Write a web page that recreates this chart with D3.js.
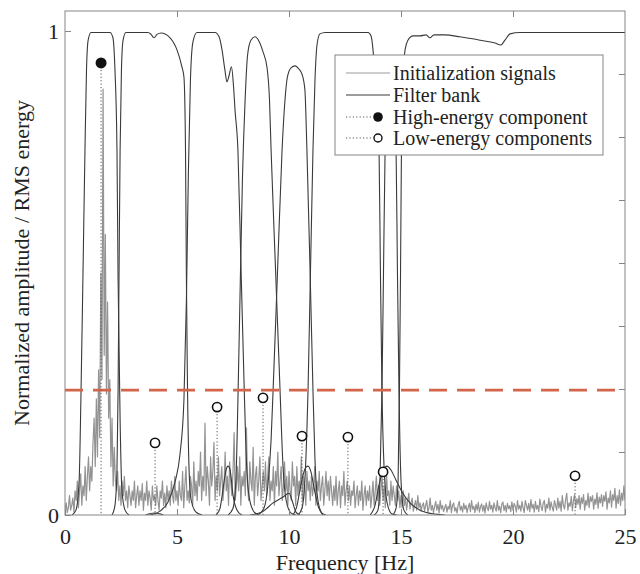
<!DOCTYPE html>
<html>
<head>
<meta charset="utf-8">
<script src="https://cdn.jsdelivr.net/npm/d3@7"></script>
<style>
body { margin: 0; background: #fff; }
text { font-family: "Liberation Serif", "Times New Roman", serif; fill: #222; }
</style>
</head>
<body>
<script>
// axis ticks
var freqTicks = [0, 5, 10, 15, 20, 25];
var ampTicks = [0, 1];
var rightTicks = [1, 2, 3, 4, 5, 6, 7];

// initialization signal, one value every 0.05 Hz from 0 to 25 Hz
var initStep = 0.05;
var initSignal = [
	0.01,0.025,0.005,0.015,0.04,0.01,0.02,0.035,0.006,0.05, 0.03,0.07,0.015,0.05,0.085,0.02,0.06,0.04,0.1,0.03,
	0.08,0.12,0.05,0.1,0.07,0.15,0.2,0.1,0.24,0.12, 0.3,0.16,0.5,0.28,0.88,0.33,0.58,0.25,0.44,0.2,
	0.28,0.1,0.2,0.06,0.14,0.07,0.05,0.09,0.03,0.06, 0.02,0.07,0.04,0.08,0.03,0.05,0.015,0.06,0.04,0.02,
	0.05,0.03,0.07,0.015,0.04,0.06,0.02,0.05,0.03,0.065, 0.01,0.045,0.03,0.07,0.02,0.05,0.035,0.01,0.06,0.03,
	0.04,0.02,0.06,0.03,0.01,0.05,0.035,0.07,0.02,0.045, 0.015,0.06,0.03,0.05,0.02,0.07,0.04,0.025,0.08,0.03,
	0.05,0.02,0.07,0.04,0.03,0.09,0.015,0.06,0.1,0.03, 0.05,0.025,0.08,0.06,0.02,0.11,0.04,0.07,0.03,0.09,
	0.06,0.13,0.03,0.08,0.05,0.19,0.04,0.1,0.07,0.02, 0.12,0.06,0.09,0.15,0.03,0.08,0.05,0.12,0.04,0.07,
	0.1,0.03,0.06,0.13,0.05,0.08,0.02,0.11,0.07,0.04, 0.09,0.17,0.03,0.06,0.1,0.05,0.12,0.02,0.08,0.06,
	0.09,0.04,0.18,0.06,0.03,0.11,0.07,0.05,0.14,0.02, 0.08,0.1,0.04,0.07,0.12,0.03,0.06,0.09,0.05,0.11,
	0.04,0.08,0.12,0.03,0.07,0.05,0.1,0.02,0.09,0.06, 0.13,0.04,0.07,0.1,0.03,0.06,0.11,0.05,0.08,0.02,
	0.09,0.05,0.03,0.11,0.06,0.08,0.02,0.1,0.04,0.07, 0.05,0.12,0.03,0.08,0.06,0.02,0.09,0.05,0.07,0.03,
	0.08,0.04,0.06,0.1,0.02,0.07,0.05,0.09,0.03,0.06, 0.08,0.02,0.05,0.09,0.04,0.07,0.03,0.08,0.05,0.02,
	0.06,0.03,0.08,0.02,0.05,0.07,0.015,0.06,0.04,0.09, 0.02,0.05,0.07,0.03,0.06,0.02,0.05,0.04,0.07,0.015,
	0.04,0.06,0.02,0.05,0.03,0.07,0.01,0.04,0.06,0.02, 0.05,0.03,0.06,0.015,0.04,0.07,0.02,0.05,0.08,0.03,
	0.06,0.02,0.05,0.08,0.03,0.06,0.015,0.09,0.04,0.05, 0.02,0.07,0.03,0.06,0.04,0.02,0.06,0.03,0.05,0.015,
	0.04,0.015,0.05,0.02,0.035,0.01,0.03,0.045,0.012,0.025, 0.035,0.008,0.02,0.03,0.01,0.04,0.015,0.025,0.008,0.02,
	0.025,0.008,0.02,0.03,0.006,0.015,0.035,0.01,0.02,0.005, 0.018,0.028,0.01,0.022,0.004,0.03,0.012,0.02,0.007,0.015,
	0.022,0.006,0.018,0.012,0.03,0.005,0.02,0.025,0.008,0.015, 0.004,0.02,0.028,0.01,0.018,0.006,0.024,0.012,0.02,0.005,
	0.016,0.024,0.007,0.03,0.012,0.018,0.005,0.022,0.01,0.026, 0.006,0.017,0.023,0.008,0.02,0.004,0.025,0.014,0.009,0.028,
	0.012,0.02,0.006,0.025,0.015,0.008,0.03,0.01,0.018,0.005, 0.022,0.027,0.009,0.02,0.006,0.024,0.013,0.019,0.007,0.027,
	0.01,0.024,0.018,0.006,0.03,0.012,0.02,0.008,0.028,0.015, 0.005,0.03,0.02,0.01,0.024,0.007,0.032,0.014,0.022,0.006,
	0.028,0.012,0.02,0.007,0.033,0.018,0.009,0.025,0.03,0.006, 0.022,0.014,0.035,0.01,0.027,0.016,0.008,0.03,0.02,0.01,
	0.035,0.014,0.028,0.008,0.04,0.02,0.012,0.032,0.045,0.01, 0.025,0.018,0.038,0.009,0.03,0.042,0.015,0.034,0.022,0.04,
	0.012,0.036,0.024,0.042,0.01,0.03,0.02,0.045,0.015,0.038, 0.028,0.04,0.012,0.033,0.022,0.046,0.014,0.037,0.025,0.042,
	0.018,0.04,0.028,0.048,0.012,0.035,0.025,0.05,0.016,0.042, 0.03,0.055,0.014,0.04,0.024,0.052,0.02,0.045,0.03,0.06,
	0.03
];

// filter bank responses, [frequency Hz, gain]
var filterA = [[0.31,0],[0.49,0.01],[0.63,0.07],[0.71,0.24],[0.80,0.49],[0.89,0.75],[0.96,0.92],[1.03,0.98],[1.16,0.997],[2.01,0.997],[2.14,0.986],[2.23,0.92],[2.32,0.754],[2.37,0.486],[2.46,0.196],[2.54,0.052],[2.68,0.01],[2.86,0]];
var filterB = [[2.1,0],[2.23,0.02],[2.32,0.093],[2.37,0.258],[2.41,0.486],[2.46,0.754],[2.52,0.92],[2.59,0.98],[2.72,0.997],[3.71,0.997],[3.84,0.993],[3.97,0.986],[4.11,0.993],[4.29,0.996],[4.69,0.986],[5.0,0.961],[5.22,0.926],[5.31,0.905],[5.38,0.754],[5.42,0.486],[5.47,0.258],[5.54,0.093],[5.63,0.031],[5.85,0.006],[6.12,0]];
var filterC = [[3.79,0],[4.24,0.008],[4.6,0.027],[4.91,0.068],[5.13,0.124],[5.31,0.238],[5.42,0.444],[5.51,0.713],[5.6,0.899],[5.71,0.977],[5.89,0.997],[6.7,0.997],[6.88,0.988],[7.01,0.961],[7.14,0.919],[7.23,0.895],[7.32,0.907],[7.43,0.926],[7.52,0.888],[7.59,0.837],[7.72,0.754],[7.86,0.506],[7.99,0.279],[8.08,0.134],[8.21,0.041],[8.39,0.01],[8.62,0]];
var filterD = [[7.28,0],[7.5,0.014],[7.63,0.072],[7.72,0.238],[7.81,0.444],[7.92,0.692],[8.04,0.857],[8.15,0.95],[8.3,0.981],[8.48,0.988],[8.66,0.979],[8.84,0.957],[9.02,0.924],[9.13,0.857],[9.2,0.754],[9.4,0.506],[9.6,0.258],[9.73,0.103],[9.87,0.031],[10.09,0.004],[10.31,0]];
var filterE = [[8.62,0],[8.88,0.014],[9.06,0.062],[9.2,0.155],[9.29,0.258],[9.49,0.506],[9.69,0.754],[9.82,0.857],[9.93,0.905],[10.09,0.924],[10.27,0.928],[10.45,0.921],[10.58,0.911],[10.71,0.878],[10.8,0.754],[10.94,0.506],[11.07,0.258],[11.16,0.114],[11.29,0.031],[11.47,0.004],[11.65,0]];
var filterF = [[10.4,0],[10.58,0.014],[10.71,0.072],[10.8,0.176],[10.85,0.258],[10.96,0.506],[11.07,0.754],[11.16,0.899],[11.25,0.971],[11.38,0.994],[11.61,0.997],[13.53,0.997],[13.66,0.99],[13.75,0.961],[13.84,0.899],[13.93,0.816],[14.02,0.754],[14.08,0.506],[14.15,0.258],[14.24,0.103],[14.38,0.025],[14.6,0.002],[14.82,0]];
var filterG = [[13.8,0],[13.97,0.01],[14.06,0.072],[14.15,0.258],[14.22,0.506],[14.29,0.754],[14.38,0.857],[14.51,0.899],[14.64,0.857],[14.78,0.754],[14.84,0.506],[14.91,0.258],[15.0,0.072],[15.13,0.01],[15.31,0]];
var filterH = [[14.64,0],[14.78,0.014],[14.87,0.072],[14.93,0.258],[14.98,0.506],[15.02,0.754],[15.09,0.899],[15.18,0.961],[15.31,0.981],[15.54,0.99],[15.85,0.99],[16.12,0.992],[16.29,0.986],[16.47,0.992],[16.96,0.992],[17.63,0.988],[18.53,0.981],[19.2,0.975],[19.46,0.971],[19.64,0.981],[19.87,0.994],[20.31,0.997],[25,0.997]];
var filterL1 = [[6.74,0],[6.92,0.014],[7.05,0.052],[7.19,0.093],[7.28,0.101],[7.37,0.093],[7.5,0.041],[7.68,0.01],[7.9,0]];
var filterL2 = [[8.26,0],[8.79,0.006],[9.29,0.025],[9.73,0.037],[10.0,0.045],[10.13,0.031],[10.31,0.006],[10.49,0]];
var filterL3 = [[10.18,0],[10.36,0.02],[10.49,0.052],[10.63,0.083],[10.76,0.099],[10.85,0.101],[10.98,0.089],[11.12,0.056],[11.29,0.02],[11.52,0]];
var filterL4 = [[13.62,0],[13.84,0.02],[14.02,0.062],[14.2,0.093],[14.38,0.101],[14.55,0.093],[14.78,0.072],[15.04,0.048],[15.4,0.025],[15.85,0.01],[16.52,0.002],[16.96,0]];
var filterL5 = [[3.6,0],[4.0,0.004],[4.4,0]];

var filterBank = [filterA, filterB, filterC, filterD, filterE, filterF, filterG, filterH,
	filterL1, filterL2, filterL3, filterL4, filterL5];

// components
var highFreqs = [1.61];
var highVals = [0.934];
var lowFreqs = [4.02, 6.79, 8.84, 10.58, 12.63, 14.2, 22.77];
var lowVals = [0.149, 0.223, 0.242, 0.163, 0.161, 0.089, 0.081];
var threshold = 0.258;

var legendLabels = ["Initialization signals", "Filter bank", "High-energy component", "Low-energy components"];


var svg = d3.select("body").append("svg")
	.attr("width", 640)
	.attr("height", 574);

var x = d3.scaleLinear().domain([0, 25]).range([65, 625]);
var y = d3.scaleLinear().domain([0, 1.0413]).range([515, 11]);
var yR = d3.scaleLinear().domain([0, 8]).range([515, 11]);

var plot = svg.append("g");

plot.append("clipPath").attr("id", "clip")
	.append("rect").attr("x", 65).attr("y", 11).attr("width", 560).attr("height", 504);

var area = plot.append("g").attr("clip-path", "url(#clip)");

// initialization signals
var initLine = d3.line()
	.x(function(d, i) { return x(i * initStep); })
	.y(function(d) { return y(d); });

area.append("path")
	.datum(initSignal)
	.attr("d", initLine)
	.attr("fill", "none")
	.attr("stroke", "#939393")
	.attr("stroke-width", 1.2)
	.attr("stroke-linejoin", "round");

// filter bank
var filterLine = d3.line()
	.x(function(d) { return x(d[0]); })
	.y(function(d) { return y(d[1]); })
	.curve(d3.curveMonotoneX);

area.selectAll(".filter")
	.data(filterBank)
	.enter()
	.append("path")
	.attr("class", "filter")
	.attr("d", filterLine)
	.attr("fill", "none")
	.attr("stroke", "#3a3a3a")
	.attr("stroke-width", 1.1);

// threshold
area.append("line")
	.attr("x1", x(0)).attr("x2", x(25))
	.attr("y1", y(threshold)).attr("y2", y(threshold))
	.attr("stroke", "#d2654a")
	.attr("stroke-width", 2.6)
	.attr("stroke-dasharray", "18,10");

// stems
var comps = [];
highFreqs.forEach(function(f, i) { comps.push({ f: f, v: highVals[i], high: true }); });
lowFreqs.forEach(function(f, i) { comps.push({ f: f, v: lowVals[i], high: false }); });

area.selectAll(".stem")
	.data(comps)
	.enter()
	.append("line")
	.attr("class", "stem")
	.attr("x1", function(d) { return x(d.f); })
	.attr("x2", function(d) { return x(d.f); })
	.attr("y1", function(d) { return y(d.v) + 7; })
	.attr("y2", y(0))
	.attr("stroke", "#555")
	.attr("stroke-width", 1)
	.attr("stroke-dasharray", "1.2,2.2");

area.selectAll(".comp")
	.data(comps)
	.enter()
	.append("circle")
	.attr("class", "comp")
	.attr("cx", function(d) { return x(d.f); })
	.attr("cy", function(d) { return y(d.v); })
	.attr("r", function(d) { return d.high ? 5.5 : 4.6; })
	.attr("fill", function(d) { return d.high ? "#111" : "#fff"; })
	.attr("stroke", "#111")
	.attr("stroke-width", function(d) { return d.high ? 0 : 1.6; });

// axes
var axisColor = "#858585";

var axBottom = svg.append("g").attr("transform", "translate(0,515)")
	.call(d3.axisBottom(x).tickValues(freqTicks).tickSizeInner(-6).tickSizeOuter(0).tickPadding(13));
var axTop = svg.append("g").attr("transform", "translate(0,11)")
	.call(d3.axisTop(x).tickValues([5, 10, 15, 20]).tickSizeInner(-6).tickSizeOuter(0).tickFormat(""));
var axLeft = svg.append("g").attr("transform", "translate(65,0)")
	.call(d3.axisLeft(y).tickValues(ampTicks).tickFormat(d3.format("d")).tickSizeInner(-6).tickSizeOuter(0).tickPadding(6));
var axRight = svg.append("g").attr("transform", "translate(625,0)")
	.call(d3.axisRight(yR).tickValues(rightTicks).tickSizeInner(-6).tickSizeOuter(0).tickFormat(""));

[axBottom, axTop, axLeft, axRight].forEach(function(g)
{
	g.select(".domain").remove();
	g.selectAll("line").attr("stroke", axisColor);
	g.selectAll("text")
		.style("font-family", "'Liberation Serif', 'Times New Roman', serif")
		.style("font-size", "22px")
		.attr("fill", "#222");
});

svg.append("rect")
	.attr("x", 65).attr("y", 11)
	.attr("width", 560).attr("height", 504)
	.attr("fill", "none")
	.attr("stroke", axisColor)
	.attr("stroke-width", 1);

// axis titles
svg.append("text")
	.attr("x", 345)
	.attr("y", 570)
	.attr("text-anchor", "middle")
	.style("font-size", "22px")
	.text("Frequency [Hz]");

svg.append("text")
	.attr("transform", "translate(29,263) rotate(-90)")
	.attr("text-anchor", "middle")
	.style("font-size", "22px")
	.text("Normalized amplitude / RMS energy");

// legend
var legend = svg.append("g");

legend.append("rect")
	.attr("x", 335).attr("y", 55)
	.attr("width", 268).attr("height", 100)
	.attr("fill", "#fff")
	.attr("stroke", axisColor)
	.attr("stroke-width", 1);

var rowY = [73, 95, 117, 138];

legend.append("line")
	.attr("x1", 346).attr("x2", 390).attr("y1", rowY[0]).attr("y2", rowY[0])
	.attr("stroke", "#9a9a9a").attr("stroke-width", 1);
legend.append("line")
	.attr("x1", 346).attr("x2", 390).attr("y1", rowY[1]).attr("y2", rowY[1])
	.attr("stroke", "#3a3a3a").attr("stroke-width", 1.1);

[2, 3].forEach(function(k)
{
	legend.append("line")
		.attr("x1", 346).attr("x2", 373).attr("y1", rowY[k]).attr("y2", rowY[k])
		.attr("stroke", "#555").attr("stroke-dasharray", "1.2,2.2");
	legend.append("circle")
		.attr("cx", 378).attr("cy", rowY[k])
		.attr("r", k == 2 ? 4.8 : 4)
		.attr("fill", k == 2 ? "#111" : "#fff")
		.attr("stroke", "#111")
		.attr("stroke-width", k == 2 ? 0 : 1.4);
});

legend.selectAll(".lab")
	.data(legendLabels)
	.enter()
	.append("text")
	.attr("class", "lab")
	.attr("x", 393)
	.attr("y", function(d, i) { return rowY[i]; })
	.attr("dy", "0.33em")
	.style("font-size", "20px")
	.text(function(d) { return d; });
</script>
</body>
</html>
